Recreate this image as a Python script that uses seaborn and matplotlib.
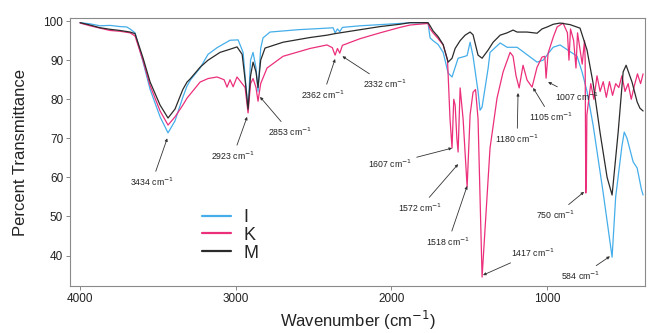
import matplotlib
matplotlib.use("Agg")
import matplotlib.pyplot as plt
import seaborn as sns
import pandas as pd
from matplotlib.lines import Line2D

# ---------------- data ----------------
wn_M = [4000, 3936, 3872, 3807, 3743, 3679, 3647, 3595, 3550, 3486, 3435, 3390, 3340, 3313, 3293,
        3229, 3178, 3101, 3037, 2992, 2959, 2940, 2921, 2905, 2889, 2870, 2857, 2840, 2812, 2696,
        2523, 2414, 2362, 2202, 2073, 1945, 1880, 1765, 1752, 1733, 1700, 1668, 1636, 1611, 1591,
        1559, 1527, 1495, 1476, 1444, 1418, 1379, 1347, 1302, 1257, 1219, 1193, 1129, 1065, 1033,
        1000, 960, 917, 853, 789, 744, 705, 660, 615, 583, 544, 512, 493, 455, 422, 404, 384]
T_M = [99.6, 99.0, 98.3, 97.9, 97.6, 97.2, 96.8, 90.5, 84.4, 78.5, 75.2, 77.5, 82.5, 84.4, 85.2,
       88.2, 90.0, 92.0, 92.8, 93.4, 91.5, 85.0, 77.5, 86.0, 89.5, 87.0, 83.0, 90.0, 93.1, 94.6,
       95.8, 96.4, 96.8, 97.8, 98.6, 99.2, 99.6, 99.6, 98.8, 97.5, 96.0, 94.0, 89.5, 90.5, 93.0,
       95.0, 96.4, 97.2, 96.5, 91.3, 90.5, 92.6, 94.6, 96.4, 97.0, 97.7, 97.2, 97.2, 96.9, 98.0,
       98.5, 99.2, 99.5, 99.1, 98.2, 92.6, 84.1, 71.4, 60.0, 55.5, 71.6, 87.0, 88.7, 84.4, 79.3,
       77.7, 77.0]

wn_I = [4000, 3936, 3872, 3807, 3743, 3700, 3679, 3647, 3595, 3550, 3486, 3435, 3390, 3340, 3313,
        3290, 3229, 3178, 3120, 3037, 2985, 2953, 2921, 2905, 2889, 2870, 2857, 2840, 2825, 2780,
        2600, 2414, 2375, 2362, 2347, 2332, 2315, 2202, 2073, 1945, 1880, 1765, 1752, 1733, 1700,
        1668, 1636, 1611, 1572, 1527, 1514, 1495, 1476, 1444, 1431, 1418, 1379, 1367, 1302, 1257,
        1193, 1129, 1065, 1026, 962, 917, 853, 808, 776, 744, 705, 640, 583, 560, 520, 505, 487,
        448, 422, 410, 395, 384]
T_I = [99.6, 99.3, 98.8, 98.9, 98.6, 98.5, 98.0, 97.0, 89.5, 82.5, 75.5, 71.4, 74.5, 80.5, 83.4,
       85.0, 88.0, 91.5, 93.2, 95.1, 95.2, 92.0, 77.0, 90.0, 92.0, 88.0, 82.0, 93.0, 95.7, 97.2,
       97.8, 98.2, 98.3, 97.0, 98.0, 97.3, 98.4, 98.8, 99.1, 99.4, 99.6, 99.5, 95.7, 95.0, 94.0,
       92.0, 86.7, 85.7, 90.5, 91.0, 91.2, 94.6, 91.0, 82.0, 77.2, 78.0, 88.0, 92.0, 94.4, 93.3,
       93.3, 91.4, 89.5, 90.0, 93.3, 93.9, 92.2, 91.0, 87.0, 82.0, 73.4, 56.0, 39.6, 55.0, 68.0,
       71.6, 70.0, 64.0, 62.4, 60.0, 57.0, 55.5]

wn_K = [4000, 3936, 3872, 3807, 3743, 3679, 3647, 3595, 3550, 3486, 3435, 3390, 3340, 3313, 3229,
        3178, 3120, 3075, 3056, 3037, 3017, 2992, 2959, 2940, 2921, 2905, 2889, 2870, 2857, 2840,
        2799, 2696, 2523, 2414, 2380, 2362, 2347, 2332, 2315, 2202, 2073, 1945, 1880, 1765, 1752,
        1733, 1700, 1668, 1640, 1624, 1611, 1600, 1591, 1580, 1572, 1559, 1540, 1514, 1495, 1476,
        1460, 1444, 1418, 1367, 1322, 1283, 1238, 1219, 1200, 1180, 1155, 1129, 1097, 1065, 1033,
        1015, 1007, 994, 960, 936, 898, 870, 860, 850, 830, 815, 805, 790, 775, 760, 756, 752,
        748, 745, 720, 700, 680, 660, 640, 620, 600, 580, 560, 540, 520, 500, 480, 460, 440,
        420, 400, 384]
T_K = [99.5, 98.8, 98.2, 97.6, 97.4, 97.0, 96.2, 89.8, 83.5, 77.0, 73.4, 75.5, 78.5, 80.3, 84.4,
       85.3, 85.7, 85.0, 83.1, 85.0, 83.2, 85.7, 84.0, 83.0, 76.5, 84.0, 85.3, 83.0, 79.5, 84.0,
       88.0, 91.0, 93.0, 93.9, 93.2, 91.3, 93.0, 91.8, 93.8, 95.5, 97.0, 98.4, 99.0, 99.4, 98.0,
       97.0, 95.5, 93.9, 90.0, 75.0, 67.5, 80.0, 78.5, 70.0, 66.5, 82.9, 75.0, 57.5, 76.0, 81.8,
       82.5, 75.0, 34.5, 67.5, 80.3, 87.0, 92.0, 91.0, 86.0, 82.9, 88.7, 84.9, 83.1, 88.2, 90.8,
       91.0, 85.4, 91.8, 96.0, 98.5, 99.5, 97.0, 90.0, 98.0, 95.0, 88.0, 97.0, 93.0, 89.0, 95.0,
       90.0, 56.0, 60.0, 76.0, 84.0, 80.0, 86.0, 82.0, 84.5, 80.5, 84.5, 81.0, 84.0, 83.0, 86.0,
       82.0, 84.0, 80.0, 83.5, 86.5, 84.0, 86.5]

series_names = ["I", "K", "M"]

ann_labels = ["3434", "2923", "2853", "2362", "2332", "1607", "1572", "1518", "1417",
              "1180", "1105", "1007", "750", "584"]
ann_points = [(3440, 70.0), (2927, 75.5), (2844, 80.6), (2362, 90.3), (2315, 91.0),
              (1611, 67.5), (1572, 63.4), (1514, 57.8), (1412, 35.0), (1187, 81.6),
              (1090, 82.9), (994, 84.4), (763, 56.3), (597, 39.8)]

# ---------------- layout / style ----------------
ann_text_pos = [(3538, 58.8), (3017, 65.5), (2651, 71.6), (2439, 81.1), (2041, 83.9),
                (2009, 63.4), (1816, 52.2), (1636, 43.5), (1090, 40.7), (1193, 69.8),
                (975, 75.4), (808, 80.6), (943, 50.4), (782, 34.8)]

colors = {"I": "#45aeea", "K": "#ec2f7b", "M": "#2b2b2b"}

frames = []
for name, wn, t in [("I", wn_I, T_I), ("K", wn_K, T_K), ("M", wn_M, T_M)]:
    frames.append(pd.DataFrame({"wavenumber": wn, "T": t, "sample": name}))
df = pd.concat(frames, ignore_index=True)

sns.set_style("white")
plt.rcParams["font.family"] = ["Liberation Sans", "DejaVu Sans"]

fig = plt.figure(figsize=(6.49, 3.33), dpi=100)
ax = fig.add_axes([0.108, 0.141, 0.886, 0.805])

sns.lineplot(data=df, x="wavenumber", y="T", hue="sample", palette=colors,
             estimator=None, sort=False, linewidth=0.9, ax=ax, legend=False)

ax.set_xlim(4064, 371)
ax.set_ylim(32.2, 100.8)
ax.set_xticks([4000, 3000, 2000, 1000])
ax.set_yticks([40, 50, 60, 70, 80, 90, 100])
ax.tick_params(axis="both", which="major", bottom=True, left=True, labelsize=8.5,
               length=3, width=0.7, color="#888888", labelcolor="#222222",
               direction="out", pad=2)
for s in ax.spines.values():
    s.set_color("#8a8a8a")
    s.set_linewidth(0.8)

ax.set_xlabel("Wavenumber (cm$^{-1}$)", fontsize=12, labelpad=3, color="#222222")
ax.set_ylabel("Percent Transmittance", fontsize=12, labelpad=11, color="#222222")

for lab, pt, tp in zip(ann_labels, ann_points, ann_text_pos):
    ax.annotate(lab + " cm$^{-1}$", xy=pt, xytext=tp, fontsize=6.3, color="#222222",
                ha="center", va="center",
                arrowprops=dict(arrowstyle="-|>", color="#333333", lw=0.6,
                                mutation_scale=4, shrinkA=1, shrinkB=0))

handles = [Line2D([0], [0], color=colors[n], lw=1.6) for n in series_names]
ax.legend(handles, series_names, loc="upper left", bbox_to_anchor=(0.207, 0.335),
          frameon=False, fontsize=13, handlelength=1.6, labelspacing=0.05,
          handletextpad=0.7, borderpad=0.2)

fig.savefig("out.png", dpi=100)
